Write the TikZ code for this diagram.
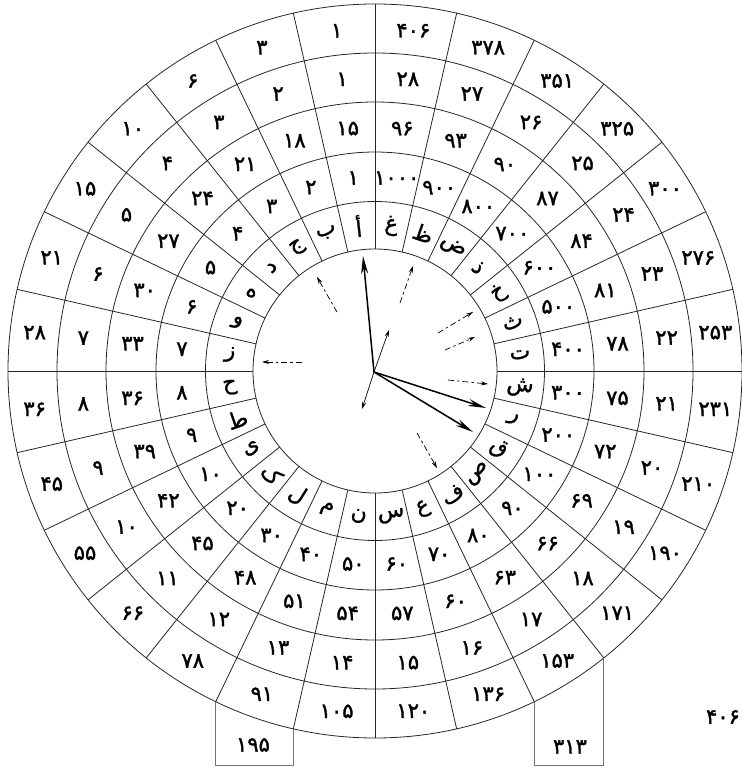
\documentclass[tikz,border=0pt]{standalone}
\usepackage{fontspec}
\newfontfamily\arabicfont[Script=Arabic,FakeBold=1.2]{DejaVu Sans}
\newfontfamily\digitfont[FakeBold=1.6]{DejaVu Sans}
\usetikzlibrary{arrows.meta}
\def\fa#1{\edef\tmpfa{#1}\expandafter\faA\tmpfa\relax}
\def\faA#1{\ifx\relax#1\else\faD{#1}\expandafter\faA\fi}
\def\faD#1{\ifcase#1 ۰\or ۱\or ۲\or ۳\or ۴\or ۵\or ۶\or ۷\or ۸\or ۹\fi}
\begin{document}
\begin{tikzpicture}[x=1pt,y=1pt,
  ringline/.style={line width=0.8pt, draw=black!85},
  boxline/.style={line width=0.9pt, draw=black!55},
  numtxt/.style={font=\digitfont\fontsize{21}{21}\selectfont, inner sep=0pt},
  lettxt/.style={font=\arabicfont\fontsize{22}{22}\selectfont, inner sep=0pt},
  hand/.style={line width=1.5pt, -{Stealth[length=18pt,width=7pt]}},
  thinhand/.style={line width=0.7pt, -{Stealth[length=7pt,width=4pt]}},
  ptr/.style={line width=0.7pt, dash pattern=on 6pt off 3pt on 2.5pt off 3pt, -{Stealth[length=7pt,width=4pt]}}]
\useasboundingbox (-375,-398) rectangle (367,371);
\coordinate (O) at (0,0);
\foreach \r in {122,169.5,219,269,318,367} \draw[ringline] (O) circle (\r);
\foreach \k in {0,...,27} \draw[ringline] ({90+12.857143*\k}:122) -- ({90+12.857143*\k}:367);
% boxes
\coordinate (b1a) at (244.285714:367); \coordinate (b1b) at (257.142857:367);
\coordinate (b2a) at (295.714286:367); \coordinate (b2b) at (308.571429:367);
\draw[boxline] (b1a) -- (b1a |- 0,-394) -- (b1b |- 0,-394) -- (b1b);
\draw[boxline] (b2a) -- (b2a |- 0,-394) -- (b2b |- 0,-394) -- (b2b);
\node[numtxt] (bx1) at (-122,-374) {\fa{195}};
\node[numtxt] (bx2) at (195,-376) {\fa{313}};
\node[numtxt] (extra) at (348,-346) {\fa{406}};
% letters
\foreach \l/\rot [count=\i from 0] in {أ/6.4,ب/19.3,ج/32.1,د/45,ه/-32.1,و/-19.3,ز/-6.4,ح/6.4,ط/19.3,ی/32.1,ک/-45,ل/-32.1,م/-19.3,ن/-6.4,س/6.4,ع/19.3,ف/32.1,ص/45,ق/-32.1,ر/-19.3,ش/-6.4,ت/6.4,ث/19.3,خ/32.1,ذ/-45,ض/-32.1,ظ/-19.3,غ/-6.4}{
  \pgfmathsetmacro\a{96.428571+12.857143*\i}
  \node[lettxt, rotate=\rot] (L\i) at (\a:146) {\l};
}
% abjad values
\foreach \v [count=\i from 0] in {1,2,3,4,5,6,7,8,9,10,20,30,40,50,60,70,80,90,100,200,300,400,500,600,700,800,900,1000}{
  \pgfmathsetmacro\a{96.428571+12.857143*\i}
  \node[numtxt] (A\i) at (\a:194.25) {\fa{\v}};
}
\foreach \i in {0,...,27}{
  \pgfmathsetmacro\a{96.428571+12.857143*\i}
  \pgfmathtruncatemacro\vc{15+3*\i}
  \pgfmathtruncatemacro\vd{\i+1}
  \pgfmathtruncatemacro\ve{(\i+1)*(\i+2)/2}
  \node[numtxt] (B\i) at (\a:244) {\fa{\vc}};
  \node[numtxt] (D\i) at (\a:293.5) {\fa{\vd}};
  \node[numtxt] (E\i) at (\a:342.5) {\fa{\ve}};
}
% hands
\coordinate (hub) at (-1,-1);
\coordinate (h1) at (-12,115);
\coordinate (h2) at (111,-37);
\coordinate (h3) at (98,-61);
\coordinate (t1) at (14,41);
\coordinate (t2) at (-13,-38);
\draw[hand] (hub) -- (h1);
\draw[hand] (hub) -- (h2);
\draw[hand] (hub) -- (h3);
\draw[thinhand] (hub) -- (t1);
\draw[thinhand] (hub) -- (t2);
% pointers
\coordinate (p1s) at (-38,59);  \coordinate (p1e) at (-58,94);
\coordinate (p2s) at (-73,9);   \coordinate (p2e) at (-113,9);
\coordinate (p3s) at (25,68);   \coordinate (p3e) at (38,105);
\coordinate (p4s) at (63,38);   \coordinate (p4e) at (98,59);
\coordinate (p5s) at (70,21);   \coordinate (p5e) at (100,34);
\coordinate (p6s) at (73,-9);   \coordinate (p6e) at (113,-13);
\coordinate (p7s) at (42,-62);  \coordinate (p7e) at (62,-97);
\foreach \n in {1,...,7} \draw[ptr] (p\n s) -- (p\n e);
\end{tikzpicture}
\end{document}
